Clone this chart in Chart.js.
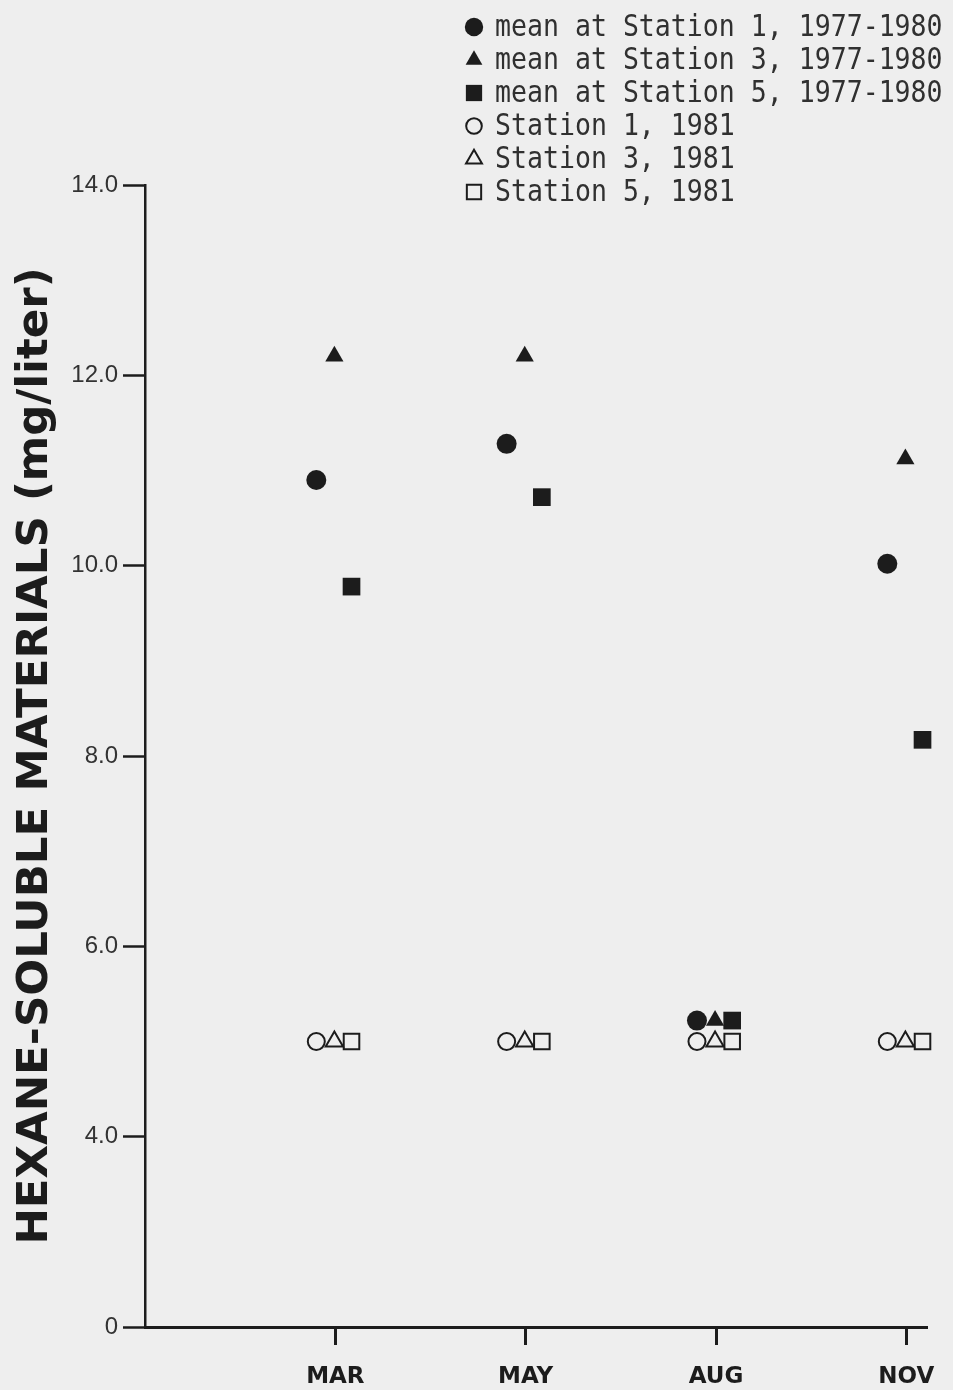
<!DOCTYPE html>
<html><head><meta charset="utf-8">
<script src="https://cdn.jsdelivr.net/npm/chart.js@4/dist/chart.umd.min.js"></script>
<style>html,body{margin:0;padding:0;background:#eeeeee;} canvas{display:block}</style>
</head><body>
<canvas id="c" width="953" height="1390"></canvas>
<script>
// ---- data ----
const months = ['MAR', 'MAY', 'AUG', 'NOV'];
const meanStation1 = [10.90, 11.28, 5.22, 10.02];
const meanStation3 = [12.20, 12.20, 5.22, 11.12];
const meanStation5 = [9.78, 10.72, 5.22, 8.17];
const station1_1981 = [5.0, 5.0, 5.0, 5.0];
const station3_1981 = [5.0, 5.0, 5.0, 5.0];
const station5_1981 = [5.0, 5.0, 5.0, 5.0];
const yTickValues = [2, 4, 6, 8, 10, 12, 14];
const yTickLabels = ['0', '4.0', '6.0', '8.0', '10.0', '12.0', '14.0'];
const seriesLabels = [
  'mean at Station 1, 1977-1980',
  'mean at Station 3, 1977-1980',
  'mean at Station 5, 1977-1980',
  'Station 1, 1981',
  'Station 3, 1981',
  'Station 5, 1981'
];

const INK = '#1c1c1c';
const groupOffset = { circle: -0.10, triangle: -0.005, rect: 0.085 };

function pts(values, style) {
  return values.map((v, i) => ({ x: i + 1 + groupOffset[style], y: v }));
}
function ds(label, values, style, filled, radius) {
  return {
    label,
    data: pts(values, style),
    pointStyle: style,
    pointRadius: radius,
    pointHoverRadius: radius,
    backgroundColor: filled ? INK : 'rgba(0,0,0,0)',
    borderColor: INK,
    borderWidth: filled ? 0 : 2,
    clip: false
  };
}

const datasets = [
  ds(seriesLabels[0], meanStation1, 'circle', true, 10),
  ds(seriesLabels[1], meanStation3, 'triangle', true, 10.5),
  ds(seriesLabels[2], meanStation5, 'rect', true, 12.5),
  ds(seriesLabels[3], station1_1981, 'circle', false, 8.5),
  ds(seriesLabels[4], station3_1981, 'triangle', false, 10),
  ds(seriesLabels[5], station5_1981, 'rect', false, 11)
];

const bgPlugin = {
  id: 'bg',
  beforeDraw(chart) {
    const ctx = chart.ctx;
    ctx.save();
    ctx.fillStyle = '#eeeeee';
    ctx.fillRect(0, 0, chart.width, chart.height);
    ctx.restore();
  }
};

const cornerLegend = {
  id: 'cornerLegend',
  afterDraw(chart) {
    const ctx = chart.ctx;
    chart.data.datasets.forEach((d, i) => {
      const y = 27 + i * 33;
      ctx.save();
      ctx.fillStyle = d.backgroundColor;
      ctx.strokeStyle = d.borderColor;
      ctx.lineWidth = d.borderWidth;
      Chart.helpers.drawPoint(ctx, {
        pointStyle: d.pointStyle,
        radius: d.pointRadius * 0.92,
        borderWidth: d.borderWidth,
        rotation: 0
      }, 474, y);
      ctx.restore();
      ctx.save();
      ctx.font = '30px "DejaVu Sans Mono"';
      ctx.fillStyle = '#303030';
      ctx.textBaseline = 'middle';
      ctx.textAlign = 'left';
      ctx.translate(495, y + 1);
      ctx.scale(0.885, 1);
      ctx.fillText(d.label, 0, 0);
      ctx.restore();
    });
  }
};

new Chart(document.getElementById('c'), {
  type: 'scatter',
  data: { datasets },
  options: {
    responsive: false,
    animation: false,
    layout: { padding: { top: 185, right: 25, left: 0, bottom: 0 } },
    plugins: { legend: { display: false }, tooltip: { enabled: false } },
    scales: {
      x: {
        type: 'linear',
        min: 0,
        max: 4.11,
        afterBuildTicks: s => { s.ticks = months.map((m, i) => ({ value: i + 1 })); },
        afterFit: s => { s.height = 63; },
        ticks: {
          callback: (v, i) => months[i],
          font: { family: 'DejaVu Sans', weight: 'bold', size: 23 },
          color: INK,
          padding: 18,
          maxRotation: 0,
          autoSkip: false
        },
        grid: { drawOnChartArea: false, drawTicks: true, tickLength: 18, tickWidth: 3, tickColor: INK },
        border: { display: true, color: INK, width: 3 }
      },
      y: {
        type: 'linear',
        min: 2,
        max: 14,
        afterBuildTicks: s => { s.ticks = yTickValues.map(v => ({ value: v })); },
        afterFit: s => { s.width = 145; },
        ticks: {
          callback: (v, i) => yTickLabels[i],
          font: { family: 'Liberation Sans', size: 24 },
          color: '#333333',
          padding: 5
        },
        grid: { drawOnChartArea: false, drawTicks: true, tickLength: 22, tickWidth: 2.5, tickColor: INK },
        border: { display: true, color: INK, width: 2.5 },
        title: {
          display: true,
          text: 'HEXANE-SOLUBLE MATERIALS (mg/liter)',
          font: { family: 'DejaVu Sans', weight: 'bold', size: 43.5, lineHeight: 1.2 },
          color: INK,
          padding: { top: 10, bottom: 0 }
        }
      }
    }
  },
  plugins: [bgPlugin, cornerLegend]
});
</script>
</body></html>
